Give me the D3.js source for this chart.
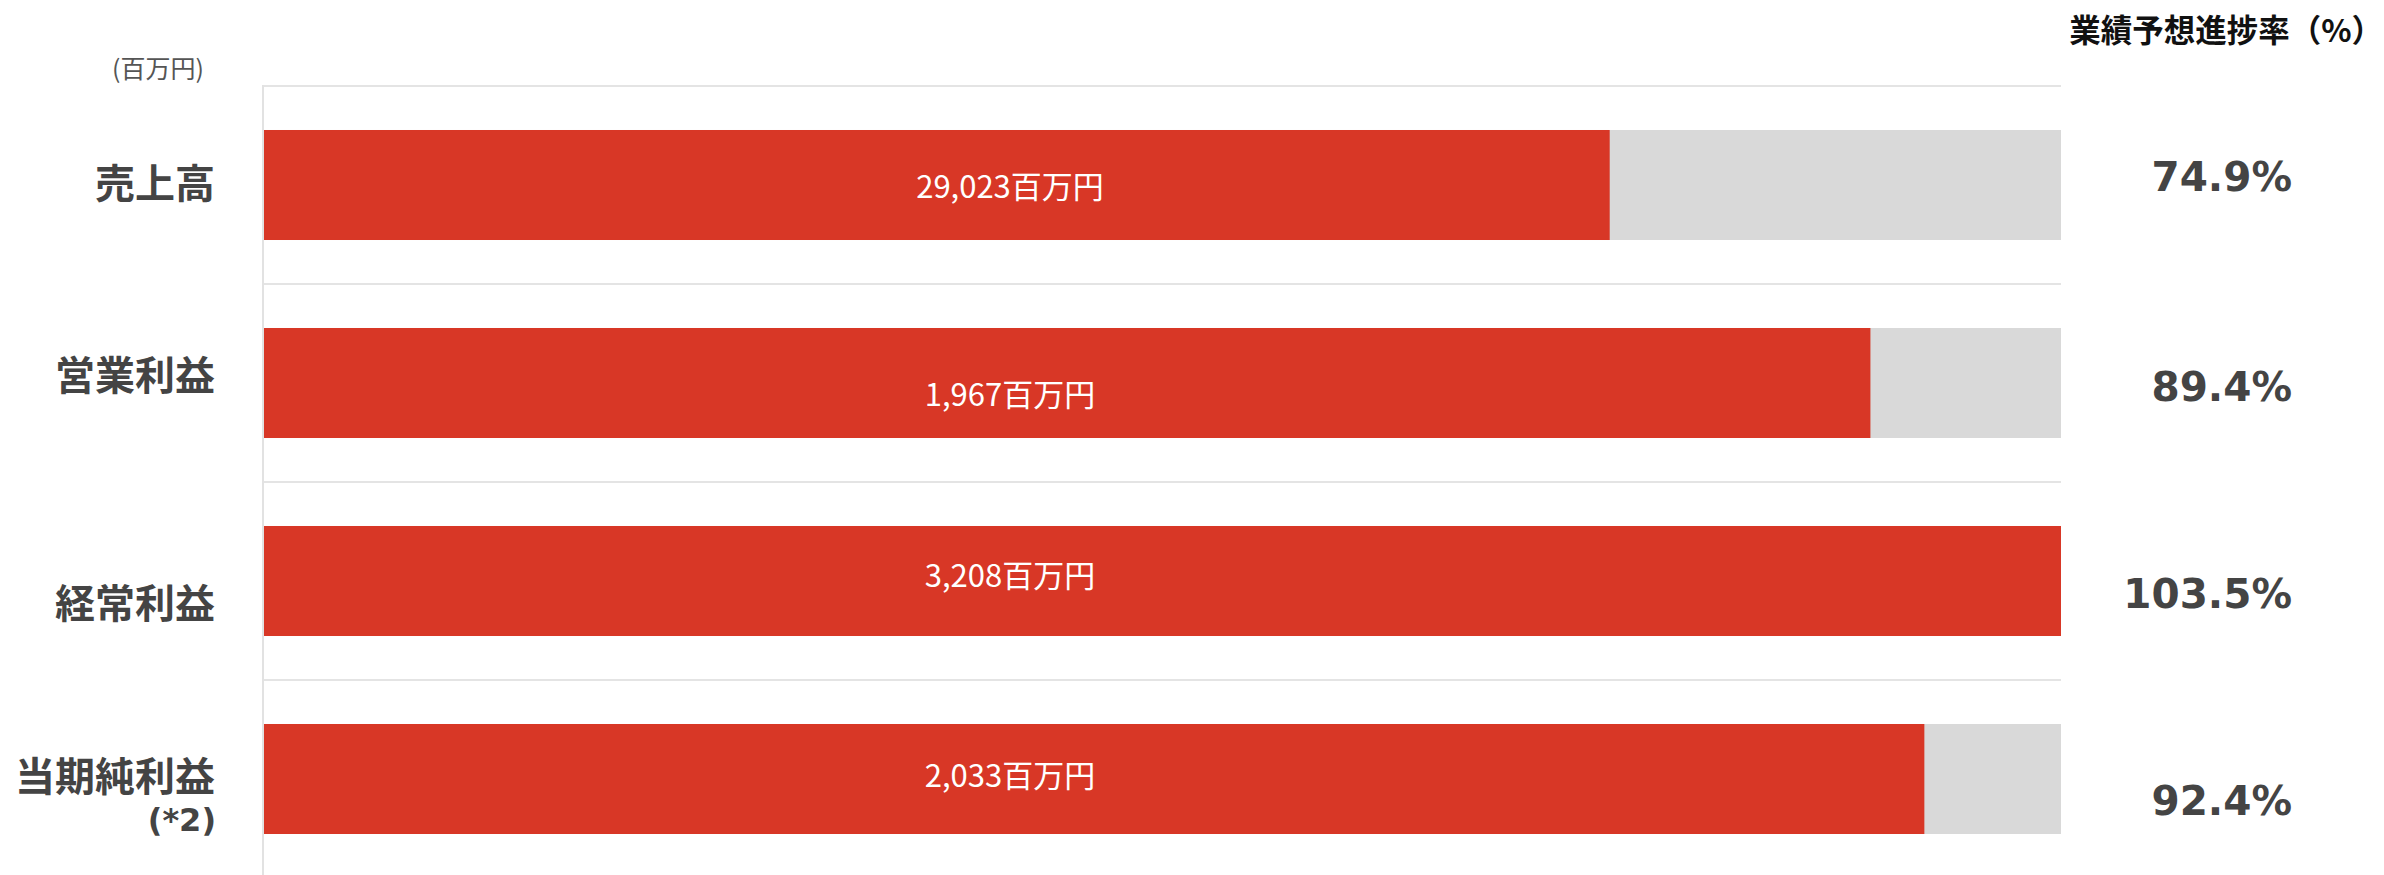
<!DOCTYPE html>
<html>
<head>
<meta charset="utf-8">
<script src="https://cdn.jsdelivr.net/npm/d3@7"></script>
<style>
  html, body { margin: 0; padding: 0; background: #fff; }
  svg { display: block; }
</style>
</head>
<body>
<svg id="chart" width="2384" height="875"></svg>
<script>
// ---- data ----
const categories = ["売上高", "営業利益", "経常利益", "当期純利益"];
const categoryNotes = ["", "", "", "(*2)"];
const actualValues = [29023, 1967, 3208, 2033];
const progressRates = [74.9, 89.4, 103.5, 92.4];
const unitLabel = "百万円";
const axisUnit = "(百万円)";
const rateHeader = "業績予想進捗率（%）";
const rateDomain = [0, 100];

// ---- layout (not data) ----
const W = 2384, H = 875;
const plotLeft = 263, plotRight = 2061, plotTop = 86, plotBottom = 878;
const catNudge = [-2, -8.5, 21.5, -3];     // label ink centre relative to bar centre
const valueBaseline = [13, 23, 6, 8];       // in-bar label baseline relative to bar centre
const rateBaseline = [6, 18, 27, 36];       // rate label baseline relative to bar centre

const svg = d3.select("#chart");
const rows = categories.map((c, i) => ({
  cat: c, note: categoryNotes[i], value: actualValues[i], rate: progressRates[i], i
}));

const x = d3.scaleLinear().domain(rateDomain).range([plotLeft, plotRight]).clamp(true);
const y = d3.scaleBand().domain(categories).range([plotTop, plotBottom])
  .paddingInner(0.4444).paddingOuter(0.2222);
const step = y.step();
const bw = y.bandwidth();
const gap = step * y.paddingInner();

// grid lines (band boundaries)
svg.append("g").selectAll("line").data(categories).join("line")
  .attr("x1", plotLeft).attr("x2", plotRight)
  .attr("y1", d => y(d) - gap / 2).attr("y2", d => y(d) - gap / 2)
  .attr("stroke", "#e4e4e4").attr("stroke-width", 2);

// vertical axis line
svg.append("line")
  .attr("x1", plotLeft).attr("x2", plotLeft)
  .attr("y1", plotTop - 1).attr("y2", H)
  .attr("stroke", "#e2e2e2").attr("stroke-width", 2);

// background bars
svg.append("g").selectAll("rect").data(rows).join("rect")
  .attr("x", x(rateDomain[0]) + 1)
  .attr("y", d => y(d.cat))
  .attr("width", x(rateDomain[1]) - x(rateDomain[0]) - 1)
  .attr("height", bw)
  .attr("fill", "#d9d9d9");

// progress bars
svg.append("g").selectAll("rect").data(rows).join("rect")
  .attr("x", x(0) + 1)
  .attr("y", d => y(d.cat))
  .attr("width", d => x(d.rate) - x(0) - 1)
  .attr("height", bw)
  .attr("fill", "#d83726");

// in-bar value labels
const fmt = d3.format(",");
svg.append("g").selectAll("text").data(rows).join("text")
  .attr("x", 1010)
  .attr("y", d => y(d.cat) + bw / 2 + valueBaseline[d.i])
  .attr("text-anchor", "middle")
  .attr("font-family", "'Noto Sans CJK JP', 'Noto Sans', sans-serif")
  .attr("font-size", 31)
  .attr("fill", "#ffffff")
  .text(d => fmt(d.value) + unitLabel);

// category labels
const catG = svg.append("g");
catG.selectAll("text.cat").data(rows).join("text")
  .attr("class", "cat")
  .attr("x", 215)
  .attr("y", d => y(d.cat) + bw / 2 + catNudge[d.i] + 15)
  .attr("text-anchor", "end")
  .attr("font-family", "'Noto Sans CJK JP', sans-serif")
  .attr("font-weight", 700)
  .attr("font-size", 40)
  .attr("fill", "#444444")
  .text(d => d.cat);
catG.selectAll("text.note").data(rows.filter(d => d.note)).join("text")
  .attr("class", "note")
  .attr("x", 216)
  .attr("y", d => y(d.cat) + bw / 2 + 52)
  .attr("text-anchor", "end")
  .attr("font-family", "'DejaVu Sans', sans-serif")
  .attr("font-weight", 700)
  .attr("font-size", 32)
  .attr("fill", "#444444")
  .text(d => d.note);

// rate labels
svg.append("g").selectAll("text").data(rows).join("text")
  .attr("x", 2292)
  .attr("y", d => y(d.cat) + bw / 2 + rateBaseline[d.i])
  .attr("text-anchor", "end")
  .attr("font-family", "'DejaVu Sans', sans-serif")
  .attr("font-weight", 700)
  .attr("font-size", 40.5)
  .attr("fill", "#444444")
  .text(d => d.rate.toFixed(1) + "%");

// header (anchored at the right edge so the full-width paren is not clipped)
svg.append("text")
  .attr("x", 2383).attr("y", 42)
  .attr("text-anchor", "end")
  .attr("font-family", "'Noto Sans CJK JP', sans-serif")
  .attr("font-weight", 700)
  .attr("font-size", 31.5)
  .attr("fill", "#111111")
  .text(rateHeader);

// unit label
svg.append("text")
  .attr("x", 158).attr("y", 78)
  .attr("text-anchor", "middle")
  .attr("font-family", "'Noto Sans CJK JP', sans-serif")
  .attr("font-size", 25)
  .attr("fill", "#555555")
  .text(axisUnit);
</script>
</body>
</html>
